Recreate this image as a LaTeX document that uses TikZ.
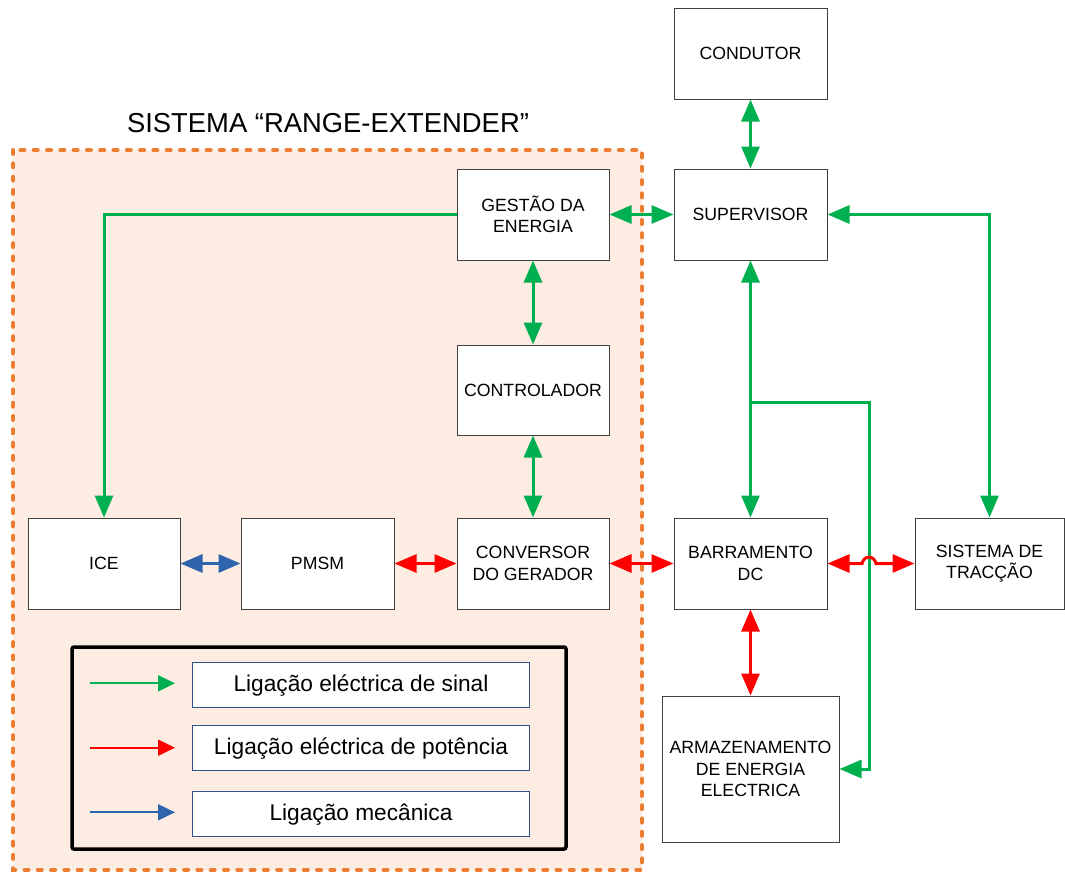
\documentclass[tikz,border=0pt]{standalone}
\usepackage{fontspec}
\setmainfont{Liberation Sans}
\usetikzlibrary{arrows.meta}
\definecolor{sig}{HTML}{00B050}
\definecolor{pow}{HTML}{FF0000}
\definecolor{mec}{HTML}{2E64AE}
\definecolor{regor}{HTML}{ED7D31}
\definecolor{regfill}{HTML}{FCECE1}
\definecolor{boxline}{HTML}{404040}
\definecolor{legline}{HTML}{2F528F}
\begin{document}
\begin{tikzpicture}[x=1pt,y=-1pt,
  blk/.style={draw=boxline, line width=1pt, fill=white, inner sep=0pt, align=center,
    minimum width=153pt, minimum height=91pt, font=\fontsize{17.7}{21.5}\selectfont},
  legtxt/.style={draw=legline, line width=1pt, fill=white, inner sep=0pt,
    minimum width=337pt, minimum height=45pt, font=\fontsize{22.7}{27}\selectfont},
  tip/.tip={Triangle[length=22pt,width=18pt]},
  ltip/.tip={Triangle[length=17pt,width=16pt]},
  both/.style={line width=3pt, tip-tip},
  one/.style={line width=3pt, -tip},
  sigc/.style={sig, both},
  powc/.style={pow, both},
  mecc/.style={mec, both},
  legarr/.style={line width=2pt, -ltip}
]
\useasboundingbox (0,0) rectangle (1065,873);

% range-extender region
\fill[regfill] (13,150) rectangle (642,870);
\draw[regor, line width=4pt, dash pattern=on 4pt off 9.3pt, line cap=round] (13,150) rectangle (642,870);
\node[font=\fontsize{27.4}{32}\selectfont, anchor=base] (title) at (328,132) {SISTEMA “RANGE-EXTENDER”};

% blocks
\node[blk] (cond) at (750.5,53.5) {CONDUTOR};
\node[blk] (sup) at (750.5,214.5) {SUPERVISOR};
\node[blk, minimum width=152pt] (ges) at (533,214.5) {GESTÃO DA\\ENERGIA};
\node[blk, minimum width=152pt, minimum height=90pt] (ctl) at (533,390) {CONTROLADOR};
\node[blk, minimum width=152pt] (ice) at (104,563.5) {ICE};
\node[blk] (pmsm) at (317.5,563.5) {PMSM};
\node[blk, minimum width=152pt] (conv) at (533,563.5) {CONVERSOR\\DO GERADOR};
\node[blk] (bar) at (750.5,563.5) {BARRAMENTO\\DC};
\node[blk, minimum width=149pt] (trac) at (989.5,563.5) {SISTEMA DE\\TRACÇÃO};
\node[blk, minimum width=177pt, minimum height=146pt] (arm) at (750.5,769) {ARMAZENAMENTO\\DE ENERGIA\\ELECTRICA};

% signal connectors
\draw[sigc] (cond.south) -- (sup.north);
\draw[sigc] (ges.east) -- (sup.west);
\draw[sig, one] (ges.west) -| (ice.north);
\draw[sigc] (sup.east) -| (trac.north);
\draw[sigc] (sup.south) -- (bar.north);
\draw[sigc] (ges.south) -- (ctl.north);
\draw[sigc] (ctl.south) -- (conv.north);
\coordinate (br) at (750.5,402);
\coordinate (bk) at (869,402);
\draw[sig, one] (br) -- (bk) |- (arm.east);

% mechanical
\draw[mecc] (ice.east) -- (pmsm.west);

% power
\draw[powc] (pmsm.east) -- (conv.west);
\draw[powc] (conv.east) -- (bar.west);
\draw[powc] (bar.south) -- (arm.north);
\coordinate (h1) at (862,563.5);
\coordinate (h2) at (876,563.5);
\draw[powc] (bar.east) -- (h1) .. controls (864,555) and (874,555) .. (h2) -- (trac.west);

% legend
\draw[line width=3.5pt, rounded corners=2pt] (72,647) rectangle (566,849);
\node[legtxt] (lt1) at (361,685.3) {Ligação eléctrica de sinal};
\node[legtxt] (lt2) at (361,748.2) {Ligação eléctrica de potência};
\node[legtxt] (lt3) at (361,814.3) {Ligação mecânica};
\coordinate (la1) at (90,683.3);
\coordinate (lb1) at (175,683.3);
\coordinate (la2) at (90,747.7);
\coordinate (lb2) at (175,747.7);
\coordinate (la3) at (90,812.3);
\coordinate (lb3) at (175,812.3);
\draw[sig, legarr] (la1) -- (lb1);
\draw[pow, legarr] (la2) -- (lb2);
\draw[mec, legarr] (la3) -- (lb3);
\end{tikzpicture}
\end{document}
